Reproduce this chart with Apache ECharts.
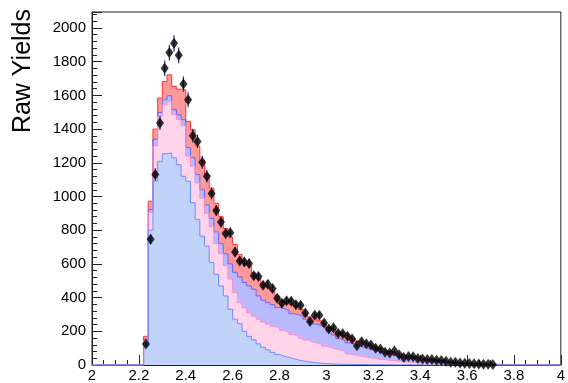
<!DOCTYPE html>
<html><head><meta charset="utf-8">
<script src="https://cdn.jsdelivr.net/npm/echarts@6/dist/echarts.min.js"></script>
<style>html,body{margin:0;padding:0;background:#fff}#c{width:568px;height:383px}</style>
</head><body><div id="c"></div>
<script>
// bins: left edges 2.22, 2.24, ... 3.70 (width 0.02)
const binStart = 2.22;
const binWidth = 0.02;
// stacked components (bottom to top), per bin
const compBlue = [110,800,1091,1209,1254,1258,1229,1189,1120,1091,963,864,765,706,608,538,469,410,331,272,245,200,170,150,125,105,90,75,62,52,45,38,30,25,20,16,13,10,8,7,6,5,4,4,3,3,3,2,2,2,2,1,1,1,1,1,1,1,1,0,0,0,0,0,0,0,0,0,0,0,0,0,0,0,0];
const levelPink = [145,905,1300,1475,1544,1564,1485,1456,1420,1240,1180,1080,990,900,820,720,660,590,510,430,370,340,310,290,272,255,243,230,220,205,194,180,174,160,148,138,130,124,112,104,95,88,80,66,60,55,50,45,41,37,33,30,27,24,21,19,17,15,13,11,10,9,8,7,6,5,4,3,3,2,2,1,1,1,1];
const levelLav = [153,923,1340,1499,1574,1598,1515,1485,1456,1290,1230,1130,1040,950,870,790,720,660,600,550,523,490,469,450,410,385,370,358,341,335,325,305,298,290,272,258,243,232,223,200,178,156,145,132,124,114,106,98,90,82,74,67,60,54,48,42,38,34,30,26,23,20,18,15,13,11,9,8,6,5,4,3,3,2,2];
const levelRed = [170,972,1400,1584,1682,1722,1653,1637,1633,1446,1396,1300,1215,1130,1050,960,880,810,760,716,657,610,590,545,515,480,465,440,410,385,372,360,345,330,305,285,275,262,245,222,210,195,180,170,158,143,136,126,116,106,96,86,79,72,63,56,51,46,41,37,33,29,26,22,19,16,14,12,10,9,8,7,6,5,4];
const dataVals = [124,746,1130,1436,1761,1854,1909,1838,1667,1574,1361,1327,1203,1120,1018,917,848,781,785,671,617,611,602,529,525,473,479,454,396,367,381,379,357,355,308,258,296,296,249,213,221,189,185,170,154,114,138,126,118,99,95,75,71,83,61,45,51,49,39,36,32,32,28,26,22,16,16,12,10,9,7,6,5,4,3];
const dataErr = [12,30,37,42,46,47,48,47,45,44,41,40,38,37,35,33,32,31,31,28,27,27,27,25,25,24,24,23,22,21,21,21,21,21,19,18,19,19,17,16,16,15,15,14,14,12,13,12,12,11,11,10,9,10,9,7,8,8,7,7,6,6,6,6,5,4,4,4,3,3,3,3,2,2,2];
const xTicks = ['2','2.2','2.4','2.6','2.8','3','3.2','3.4','3.6','3.8','4'];
const yTitle = 'Raw Yields';

function edge(k){ return Math.round((binStart + binWidth*k)*1000)/1000; }
function stepData(levels){
  const out = [[2,0]];
  for(let k=0;k<levels.length;k++) out.push([edge(k), levels[k]]);
  out.push([edge(levels.length), 0]);
  out.push([4,0]);
  return out;
}
function histSeries(name, levels, fill, line){
  return {name, type:'line', step:'end', symbol:'none', data:stepData(levels),
    lineStyle:{color:line,width:1}, areaStyle:{color:fill,opacity:1}, silent:true};
}
const points = dataVals.map((v,k)=>[edge(k)+binWidth/2, v, dataErr[k]]);
const FONT = 'Liberation Sans, Arial, Helvetica, sans-serif';
const chart = echarts.init(document.getElementById('c'), null, {renderer:'canvas'});
chart.setOption({
  animation:false,
  grid:{left:92,right:1,top:12,bottom:17,show:true,borderColor:'#222',borderWidth:1},
  xAxis:{type:'value',min:2,max:4,interval:0.2,
    axisLine:{lineStyle:{color:'#222'}},
    axisTick:{inside:true,length:10,lineStyle:{color:'#222'}},
    minorTick:{show:true,splitNumber:4,length:5,lineStyle:{color:'#222'}},
    splitLine:{show:false},
    axisLabel:{fontSize:15,color:'#000',fontFamily:FONT,margin:3,showMaxLabel:true,showMinLabel:true,
      formatter:(v)=>{const i=Math.round((v-2)/0.2);return xTicks[i]!==undefined?xTicks[i]:'';}}},
  yAxis:{type:'value',min:0,max:2095,interval:200,
    axisLine:{show:true,lineStyle:{color:'#222'}},
    axisTick:{show:true,inside:true,length:10,lineStyle:{color:'#222'}},
    minorTick:{show:true,splitNumber:5,length:5,lineStyle:{color:'#222'}},
    splitLine:{show:false},
    axisLabel:{fontSize:15,color:'#000',fontFamily:FONT,margin:6,showMaxLabel:false,
      formatter:(v)=>String(Math.round(v))}},
  graphic:[{type:'text',left:11,top:9,rotation:Math.PI/2,
    style:{text:yTitle,fontSize:25,fontFamily:FONT,fill:'#000'}}],
  series:[
    histSeries('c4', levelRed, '#ff9999', '#ff3333'),
    histSeries('c3', levelLav, '#b9b9ff', '#6666ff'),
    histSeries('c2', levelPink, '#ffd3ea', '#ff8dbf'),
    histSeries('c1', compBlue, '#c2d3fa', '#6b8fff'),
    {type:'custom', data:points, silent:true, z:5,
      renderItem:(params,api)=>{
        const x=api.value(0), y=api.value(1), e=api.value(2);
        const p1=api.coord([x,y-e]), p2=api.coord([x,y+e]);
        return {type:'line',shape:{x1:p1[0],y1:p1[1],x2:p2[0],y2:p2[1]},
          style:{stroke:'#1f2a90',lineWidth:1.2}};
      }},
    {type:'scatter', data:points.map(p=>[p[0],p[1]]), symbol:'diamond', symbolSize:[8,11],
      itemStyle:{color:'#000'}, z:6, silent:true}
  ]
});
</script></body></html>
